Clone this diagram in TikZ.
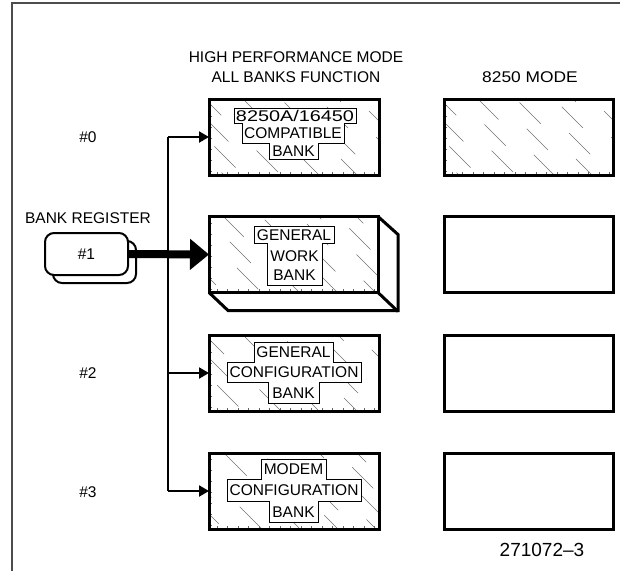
\documentclass[tikz,border=0pt]{standalone}
\usepackage{fontspec}
\setmainfont{Liberation Sans}
\usetikzlibrary{arrows.meta}
\newcommand{\hatchbox}[4]{%
  \begin{scope}
    \clip (#1,#2) rectangle (#3,#4);
    \foreach \k in {0,...,13}{
      \pgfmathsetmacro{\xs}{#1-80+\k*19}
      \pgfmathsetmacro{\ph}{mod(\k*37+#2,80)}
      \draw[hatch, dash pattern=on 30pt off 50pt, dash phase=\ph pt] (\xs,#2) -- ++(100,100);
    }
    \foreach \k in {0,...,6}{
      \draw[tick] (#1,#2+6+\k*11) -- ++(3,0);
    }
    \foreach \k in {0,...,15}{
      \draw[tick] (#1+8+\k*10.5,#4) -- ++(0,-3);
    }
  \end{scope}}
\begin{document}
\begin{tikzpicture}[x=1pt,y=-1pt,
  box/.style={draw, line width=3pt, minimum width=170pt, minimum height=76pt, inner sep=0pt, outer sep=0pt},
  rbox/.style={box, minimum width=169pt},
  hatch/.style={draw=black!55, line width=0.5pt},
  tick/.style={draw=black!60, line width=0.6pt},
  lab/.style={font=\fontsize{15.5}{18}\selectfont, inner sep=0pt},
  outline/.style={draw, fill=white, line width=0.8pt},
  arr/.style={line width=2pt, -{Triangle[length=10pt,width=11pt]}},
  bigarr/.style={line width=8pt, -{Triangle[length=19pt,width=30pt]}},
  reg/.style={draw, line width=2pt, rounded corners=9pt, fill=white, minimum width=83pt, minimum height=42pt, inner sep=0pt, outer sep=0pt},
  frame/.style={draw=black!70, line width=1.2pt}]
\useasboundingbox (0,0) rectangle (620,571);
\fill[white] (0,0) rectangle (620,571);
\draw[frame] (620,3) -- (12,3) -- (12,571);

% hatching
\hatchbox{209}{99}{379}{175}
\hatchbox{444}{99}{613}{175}
\hatchbox{209}{217}{378}{292}
\hatchbox{209}{335}{379}{411}
\hatchbox{209}{453}{379}{529}

% label outlines
\draw[outline] (234,108) -- (356,108) -- (356,123) -- (344,123) -- (344,143) -- (318,143) -- (318,159) -- (269,159) -- (269,143) -- (242,143) -- (242,123) -- (234,123) -- cycle;
\draw[outline] (254,226) -- (334,226) -- (334,243) -- (322,243) -- (322,285) -- (267,285) -- (267,243) -- (254,243) -- cycle;
\draw[outline] (254,342) -- (333,342) -- (333,362) -- (361,362) -- (361,382) -- (319,382) -- (319,403) -- (268,403) -- (268,382) -- (227,382) -- (227,362) -- (254,362) -- cycle;
\draw[outline] (261,459) -- (326,459) -- (326,479) -- (361,479) -- (361,501) -- (318,501) -- (318,522) -- (269,522) -- (269,501) -- (227,501) -- (227,479) -- (261,479) -- cycle;

% boxes
\node[box] (b0) at (294,137) {};
\node[box, minimum width=169pt] (b1) at (293.5,254.5) {};
\node[box] (b2) at (294,373) {};
\node[box] (b3) at (294,491) {};
\node[rbox] (r0) at (528.5,137) {};
\node[rbox] (r1) at (528.5,254.5) {};
\node[rbox] (r2) at (528.5,373) {};
\node[rbox] (r3) at (528.5,491) {};

% 3D extrusion of the general work bank
\draw[line width=3pt, line join=miter] (b1.north east) -- ++(20,18) -- ++(0,76) -- ++(-170,0) -- (b1.south west);
\draw[line width=3pt] (b1.south east) -- ++(20,19);

% box texts
\node[lab] (t0a) at (295,116) {\scalebox{1.28}[1]{8250A/16450}};
\node[lab] (t0b) at (293,133.5) {COMPATIBLE};
\node[lab] (t0c) at (293.5,151.5) {BANK};
\node[lab] (t1a) at (294,235) {GENERAL};
\node[lab] (t1b) at (294.5,256) {WORK};
\node[lab] (t1c) at (294.5,275) {BANK};
\node[lab] (t2a) at (293.5,352.5) {GENERAL};
\node[lab] (t2b) at (294,372.5) {CONFIGURATION};
\node[lab] (t2c) at (293.5,393) {BANK};
\node[lab] (t3a) at (293.5,469.5) {MODEM};
\node[lab] (t3b) at (294,490.5) {CONFIGURATION};
\node[lab] (t3c) at (293.5,512) {BANK};

% headings and side labels
\node[lab] (h1) at (296,57) {HIGH PERFORMANCE MODE};
\node[lab] (h2) at (296,77) {ALL BANKS FUNCTION};
\node[lab] (h3) at (530,77) {\scalebox{1.12}[1]{8250 MODE}};
\node[lab] (l0) at (88,137) {\#0};
\node[lab] (lr) at (88,218) {BANK REGISTER};
\node[lab] (l2) at (88,373) {\#2};
\node[lab] (l3) at (88,492) {\#3};
\node[font=\fontsize{19}{22}\selectfont, inner sep=0pt] (fig) at (542,550) {271072–3};

% register
\node[reg] (regb) at (94.5,262) {};
\node[reg, lab] (reg) at (86.5,254) {\#1};

% bus
\coordinate (j0) at (168,137);
\coordinate (j2) at (168,373);
\coordinate (j3) at (168,491);
\draw[line width=2pt] (j0) -- (j3);
\draw[arr] (j0) -- (b0.west);
\draw[arr] (j2) -- (b2.west);
\draw[arr] (j3) -- (b3.west);
\draw[bigarr] (reg.east) -- (b1.west);
\end{tikzpicture}
\end{document}
